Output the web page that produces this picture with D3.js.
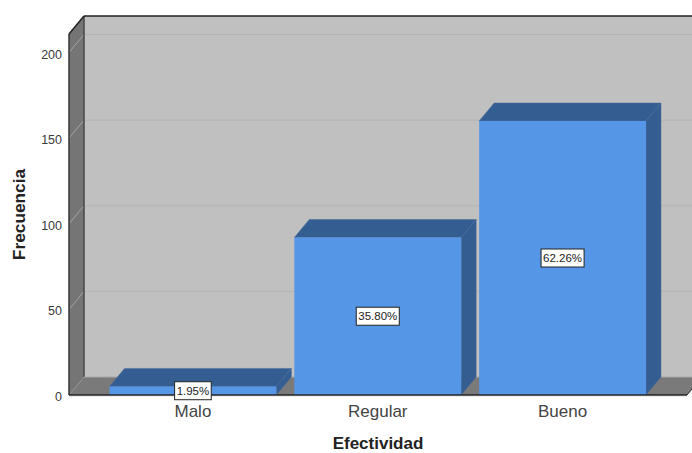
<!DOCTYPE html>
<html>
<head>
<meta charset="utf-8">
<script src="https://cdn.jsdelivr.net/npm/d3@7"></script>
<style>
  html, body { margin: 0; padding: 0; background: #fff; }
  text { font-family: "Liberation Sans", Arial, sans-serif; }
</style>
</head>
<body>
<svg id="chart" width="692" height="453"></svg>
<script>
const categories = ['Malo', 'Regular', 'Bueno'];
const frequencies = [5, 92, 160];
const percentLabels = ['1.95%', '35.80%', '62.26%'];
const yTicks = [0, 50, 100, 150, 200];

const depthX = 15, depthY = -18;
const plotLeft = 69, plotRight = 687, plotBottom = 395, plotTop = 34;

const svg = d3.select('#chart');

const y = d3.scaleLinear().domain([0, 200]).range([plotBottom, 52.5]);
const x = d3.scaleBand().domain(categories).range([109.5, 646])
    .paddingInner(0.0973).paddingOuter(0);

const poly = (pts, fill) => svg.append('polygon')
    .attr('points', pts.map(p => p.join(',')).join(' '))
    .attr('fill', fill);

const seg = (x1, y1, x2, y2, color, w) => svg.append('line')
    .attr('x1', x1).attr('y1', y1).attr('x2', x2).attr('y2', y2)
    .attr('stroke', color).attr('stroke-width', w);

// back wall, side wall, floor
svg.append('rect')
    .attr('x', plotLeft + depthX).attr('y', plotTop + depthY)
    .attr('width', plotRight - plotLeft).attr('height', plotBottom - plotTop)
    .attr('fill', '#c0c0c0');
poly([[plotLeft, plotTop], [plotLeft + depthX, plotTop + depthY],
      [plotLeft + depthX, plotBottom + depthY], [plotLeft, plotBottom]], '#757575');
poly([[plotLeft, plotBottom], [plotLeft + depthX, plotBottom + depthY],
      [plotRight + depthX, plotBottom + depthY], [plotRight, plotBottom]], '#7a7a7a');

// gridlines
yTicks.filter(d => d > 0).forEach(d => {
    seg(plotLeft, y(d), plotLeft + depthX, y(d) + depthY, '#a3a3a3', 1);
    seg(plotLeft + depthX, y(d) + depthY, 692, y(d) + depthY, '#b3b3b3', 1);
});

// frame edges
seg(plotLeft + depthX, plotTop + depthY, plotLeft + depthX, plotBottom + depthY, '#474747', 1.5);
seg(plotLeft + depthX, plotBottom + depthY, 692, plotBottom + depthY, '#a8a8a8', 1);
seg(plotLeft + depthX, plotTop + depthY, 692, plotTop + depthY, '#222', 1.5);
seg(plotLeft, plotTop, plotLeft + depthX, plotTop + depthY, '#222', 1.5);
seg(plotLeft, plotTop, plotLeft, plotBottom, '#333', 1.5);

// bars
categories.forEach((c, i) => {
    const x0 = x(c), x1 = x0 + x.bandwidth(), yT = y(frequencies[i]);
    poly([[x0, yT], [x0 + depthX, yT + depthY], [x1 + depthX, yT + depthY], [x1, yT]], '#345d92')
        .attr('stroke', '#4a6c98').attr('stroke-width', 0.5);
    poly([[x1, yT], [x1 + depthX, yT + depthY], [x1 + depthX, plotBottom + depthY], [x1, plotBottom]], '#345d92')
        .attr('stroke', '#4a6c98').attr('stroke-width', 0.5);
    svg.append('rect')
        .attr('x', x0).attr('y', yT)
        .attr('width', x.bandwidth()).attr('height', plotBottom - yT)
        .attr('fill', '#5596e6');
});

// floor front edge
seg(plotLeft, plotBottom, plotRight, plotBottom, '#222', 1.5);
seg(plotRight, plotBottom, plotRight + depthX, plotBottom + depthY, '#222', 1);
seg(plotLeft, plotBottom + 1.5, plotRight, plotBottom + 1.5, '#ececec', 1);

// percentage labels
categories.forEach((c, i) => {
    const cx = x(c) + x.bandwidth() / 2;
    const cy = (y(frequencies[i]) + plotBottom) / 2;
    const g = svg.append('g').attr('transform', `translate(${cx},${cy})`);
    const t = g.append('text')
        .attr('text-anchor', 'middle').attr('dy', '0.36em')
        .attr('font-size', 11.5).attr('fill', '#222')
        .text(percentLabels[i]);
    const w = t.node().getComputedTextLength() + 4;
    g.insert('rect', 'text')
        .attr('x', -w / 2).attr('y', -9).attr('width', w).attr('height', 18)
        .attr('fill', '#fff').attr('stroke', '#222').attr('stroke-width', 1);
});

// axes
const yAxis = svg.append('g')
    .attr('transform', `translate(${plotLeft - 5},1.5)`)
    .call(d3.axisLeft(y).tickValues(yTicks).tickSize(0).tickPadding(2));
yAxis.select('.domain').remove();
yAxis.selectAll('text').attr('font-size', 12.5).attr('fill', '#3a3a3a')
    .style('font-family', '"Liberation Sans", Arial, sans-serif');

const xAxis = svg.append('g')
    .attr('transform', `translate(0,${plotBottom})`)
    .call(d3.axisBottom(x).tickSize(0).tickPadding(10));
xAxis.select('.domain').remove();
xAxis.selectAll('text').attr('font-size', 17).attr('fill', '#444')
    .style('font-family', '"Liberation Sans", Arial, sans-serif');

svg.append('text')
    .attr('x', 378).attr('y', 449)
    .attr('text-anchor', 'middle')
    .attr('font-size', 17).attr('font-weight', 'bold').attr('fill', '#222')
    .text('Efectividad');

svg.append('text')
    .attr('transform', 'translate(25,214.5) rotate(-90)')
    .attr('text-anchor', 'middle')
    .attr('font-size', 17.3).attr('font-weight', 'bold').attr('fill', '#222')
    .text('Frecuencia');
</script>
</body>
</html>
